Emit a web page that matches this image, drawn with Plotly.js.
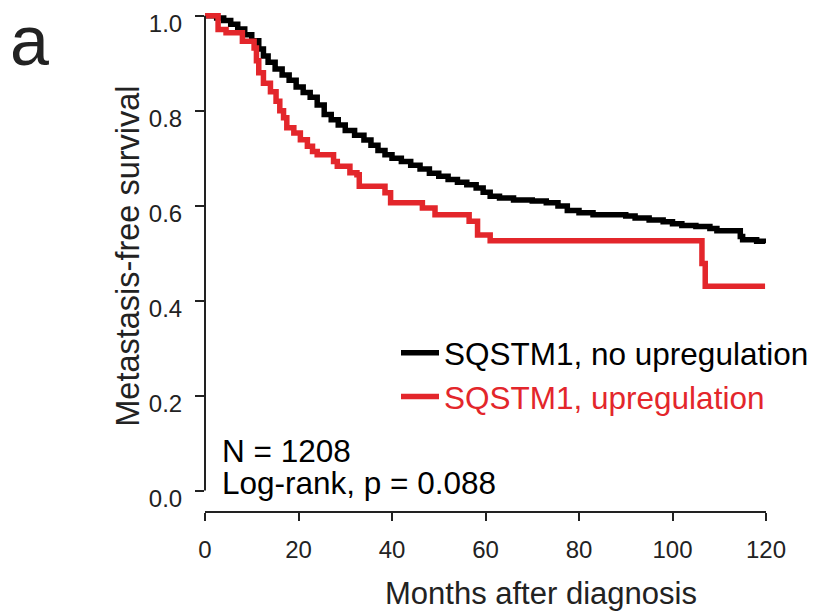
<!DOCTYPE html>
<html>
<head>
<meta charset="utf-8">
<script src="https://cdn.plot.ly/plotly-3.0.1.min.js"></script>
<style>html,body{margin:0;padding:0;background:#fff;}#chart{width:819px;height:615px;}</style>
</head>
<body>
<div id="chart"></div>
<script>
// Kaplan-Meier step points (months, survival)
const noUpMonths = [0, 2.5, 4, 5.5, 7, 8.5, 10, 11.5, 12.5, 13.5, 15, 16.5, 18, 19.5, 21, 22.5, 24, 25.5, 27, 28.5, 30, 32, 34, 35.5, 37, 38.5, 40, 42, 44, 46, 48, 50, 52, 54, 56, 58, 59.5, 61, 63, 66, 70, 73, 75.5, 77.5, 80, 83, 90, 92, 95, 98, 100, 102, 105, 108, 109.5, 114.5, 115, 118, 119.8];
const noUpSurv   = [1.0, 0.995, 0.99, 0.982, 0.972, 0.96, 0.947, 0.93, 0.915, 0.902, 0.888, 0.875, 0.864, 0.85, 0.838, 0.828, 0.812, 0.792, 0.781, 0.77, 0.758, 0.748, 0.738, 0.727, 0.716, 0.707, 0.70, 0.693, 0.685, 0.677, 0.668, 0.662, 0.655, 0.649, 0.644, 0.637, 0.628, 0.62, 0.616, 0.612, 0.61, 0.606, 0.599, 0.59, 0.585, 0.581, 0.578, 0.574, 0.57, 0.566, 0.562, 0.558, 0.556, 0.552, 0.547, 0.535, 0.528, 0.525, 0.521];

const upMonths = [0, 2.8, 4.5, 8, 10.5, 11, 11.5, 12.5, 14, 15.2, 16, 16.8, 17.5, 19, 20.4, 21.9, 23, 24, 27.5, 28.3, 31, 32.5, 33, 38.5, 39.7, 46.5, 49.2, 56.5, 58.3, 61, 106.3, 107.0, 119.8];
const upSurv   = [1.0, 0.971, 0.964, 0.946, 0.932, 0.905, 0.88, 0.858, 0.84, 0.82, 0.8, 0.785, 0.764, 0.753, 0.739, 0.725, 0.714, 0.707, 0.693, 0.683, 0.669, 0.665, 0.641, 0.627, 0.606, 0.595, 0.581, 0.567, 0.538, 0.526, 0.478, 0.43, 0.43];

const seriesNames = ['SQSTM1, no upregulation', 'SQSTM1, upregulation'];
const xTicks = [0, 20, 40, 60, 80, 100, 120];
const yTicks = [0, 0.2, 0.4, 0.6, 0.8, 1.0];

const BLACK = '#000000';
const RED = '#E3262B';
const AX = '#222222';
const FONT = 'Liberation Sans, Arial, Helvetica, sans-serif';

const traces = [
  {x: noUpMonths, y: noUpSurv, type: 'scatter', mode: 'lines', line: {shape: 'hv', color: BLACK, width: 5.5},
   name: seriesNames[0]},
  {x: upMonths, y: upSurv, type: 'scatter', mode: 'lines', line: {shape: 'hv', color: RED, width: 5.5},
   name: '<span style="color:' + RED + '">' + seriesNames[1] + '</span>'}
];

// pixel helpers for annotation placement (plot area: x 205..766, y 10..512.5)
const L = 205, W = 561, B = 512.5, H = 502.5;
const px = v => (v - L) / W;
const py = v => (B - v) / H;

const layout = {
  width: 819, height: 615,
  margin: {l: 205, r: 53, t: 10, b: 102.5, pad: 0, autoexpand: false},
  paper_bgcolor: '#fff', plot_bgcolor: '#fff',
  font: {family: FONT, color: AX},
  showlegend: true,
  legend: {x: px(396), y: py(326), xanchor: 'left', yanchor: 'top', bgcolor: 'rgba(0,0,0,0)',
           font: {size: 31.5, family: FONT, color: BLACK}, tracegroupgap: 0, itemwidth: 38},
  xaxis: {range: [0, 120], tickvals: xTicks, ticktext: xTicks.map(String), showgrid: false, zeroline: false,
          showline: false, ticks: 'outside', ticklen: 8, tickwidth: 2, tickcolor: AX,
          tickfont: {size: 24, family: FONT, color: AX}, ticklabelstandoff: 8, fixedrange: true},
  yaxis: {range: [-0.0452, 1.012], tickvals: yTicks, tickformat: '.1f', showgrid: false, zeroline: false,
          showline: false, ticks: 'outside', ticklen: 9, tickwidth: 2, tickcolor: AX,
          tickfont: {size: 24, family: FONT, color: AX}, ticklabelstandoff: 8, ticklabelshift: 8,
          ticklabeloverflow: 'allow', fixedrange: true},
  shapes: [
    {type: 'line', xref: 'paper', yref: 'y', x0: 0, x1: 0, y0: 0, y1: 1, line: {color: AX, width: 2}},
    {type: 'line', xref: 'x', yref: 'paper', x0: 0, x1: 120, y0: 0, y1: 0, line: {color: AX, width: 2}}
  ],
  annotations: [
    {text: 'Metastasis-free survival', xref: 'paper', yref: 'paper', x: px(128), y: py(257), textangle: -90,
     showarrow: false, xanchor: 'center', yanchor: 'middle', font: {size: 32.5, family: FONT, color: AX}},
    {text: 'Months after diagnosis', xref: 'paper', yref: 'paper', x: px(541), y: py(594),
     showarrow: false, xanchor: 'center', yanchor: 'middle', font: {size: 31, family: FONT, color: AX}},
    {text: 'a', xref: 'paper', yref: 'paper', x: px(29), y: py(0), 
     showarrow: false, xanchor: 'center', yanchor: 'top', font: {size: 70, family: FONT, color: AX}},
    {text: 'N = 1208', xref: 'paper', yref: 'paper', x: px(220), y: py(451),
     showarrow: false, xanchor: 'left', yanchor: 'middle', font: {size: 31.5, family: FONT, color: BLACK}},
    {text: 'Log-rank, p = 0.088', xref: 'paper', yref: 'paper', x: px(220), y: py(483),
     showarrow: false, xanchor: 'left', yanchor: 'middle', font: {size: 31.5, family: FONT, color: BLACK}}
  ]
};

Plotly.newPlot('chart', traces, layout, {displayModeBar: false, staticPlot: true});
</script>
</body>
</html>
